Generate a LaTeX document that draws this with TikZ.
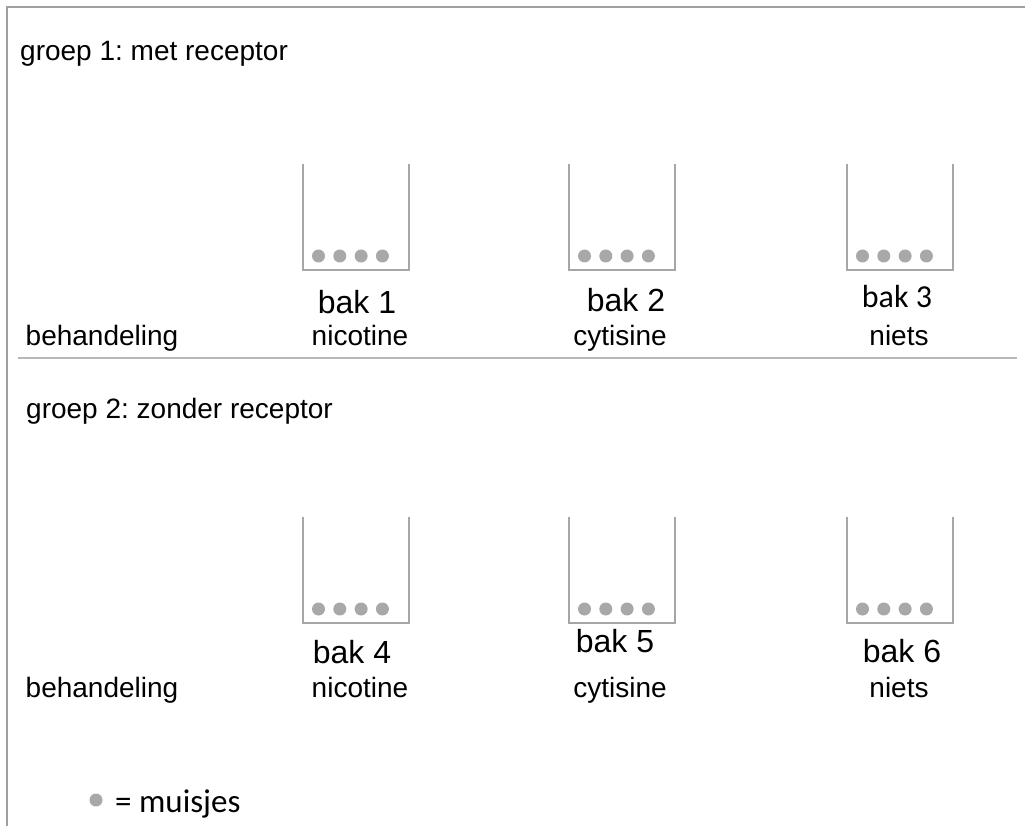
\documentclass[tikz,border=0pt]{standalone}
\usepackage{fontspec}
\setmainfont{Liberation Sans}
\newfontfamily\calibri{Carlito}
\definecolor{lijngrijs}{HTML}{A6A6A6}
\definecolor{randgrijs}{HTML}{A0A0A0}
\definecolor{muisgrijs}{HTML}{A8A8A8}
\frenchspacing
\begin{document}
\begin{tikzpicture}[x=1pt, y=-1pt,
  every node/.style = {inner sep=0pt, font=\fontsize{28}{32}\selectfont},
  tekst/.style = {anchor=base},
  baklabel/.style = {anchor=base, font=\fontsize{32}{36}\selectfont},
  bakrand/.style = {draw=lijngrijs, line width=1.3pt},
  muis/.style = {fill=muisgrijs}
  ]
  \useasboundingbox (0,0) rectangle (1025,826);
  % frame and separator
  \draw[randgrijs, line width=2pt] (1025,7) -- (7,7) -- (7,826);
  \draw[lijngrijs!80, line width=1.2pt] (18,358) -- (1017,358);
  % the six boxes with mice
  \foreach \n/\x/\y in {1/303/270, 2/569/270, 3/847/270, 4/303/623, 5/569/623, 6/847/623} {
    \draw[bakrand] (\x,\y-106) |- (\x+106,\y) -- (\x+106,\y-106);
    \foreach \i in {0,...,3}
      \fill[muis] (\x+15.5+21.3*\i, \y-14) circle (6.5pt);
  }
  \node[tekst, anchor=base west] (groep1) at (20,61) {groep 1: met receptor};
  \node[tekst, anchor=base west] (groep2) at (26,418) {groep 2: zonder receptor};
  \node[baklabel] (bak1) at (357,313) {bak 1};
  \node[baklabel] (bak2) at (626,312) {bak 2};
  \node[baklabel, font=\calibri\fontsize{32}{36}\selectfont] (bak3) at (897,308) {bak 3};
  \node[baklabel] (bak4) at (352,663) {bak 4};
  \node[baklabel] (bak5) at (615,652) {bak 5};
  \node[baklabel] (bak6) at (902,662) {bak 6};
  \node[tekst] (beh1) at (102,345) {behandeling};
  \node[tekst] (stof1) at (360,345) {nicotine};
  \node[tekst] (stof2) at (620,345) {cytisine};
  \node[tekst] (stof3) at (899,345) {niets};
  \node[tekst] (beh2) at (102,697) {behandeling};
  \node[tekst] (stof4) at (360,697) {nicotine};
  \node[tekst] (stof5) at (620,697) {cytisine};
  \node[tekst] (stof6) at (899,697) {niets};
  % legend
  \fill[muis] (96,800) circle (6.5pt);
  \node[anchor=base west, font=\calibri\fontsize{33}{38}\selectfont] (legenda) at (115,812) {= muisjes};
\end{tikzpicture}
\end{document}
